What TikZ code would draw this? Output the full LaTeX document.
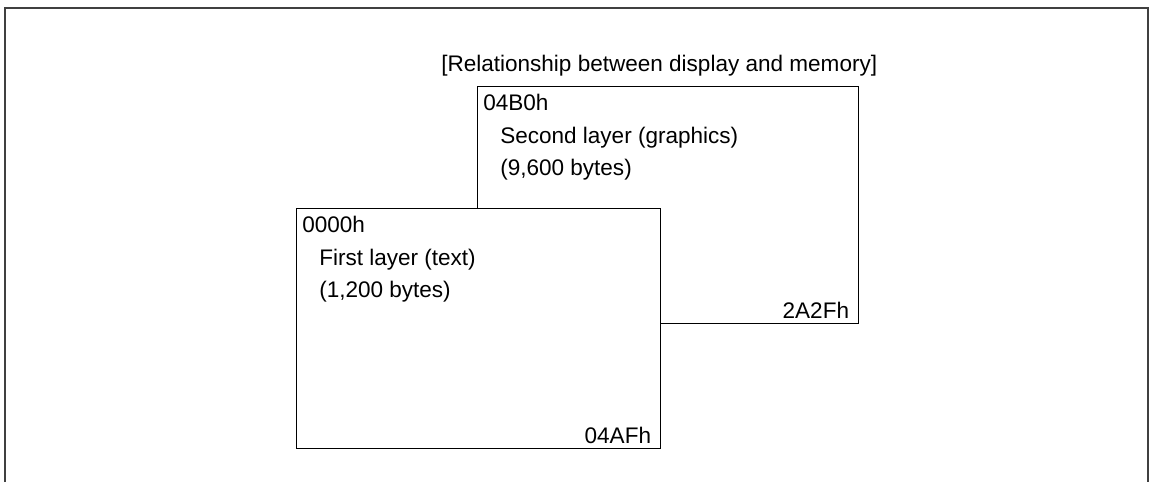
\documentclass[tikz,border=0pt]{standalone}
\usepackage{fontspec}
\setmainfont{Liberation Sans}
\usetikzlibrary{positioning}

\begin{document}
\begin{tikzpicture}[x=0.75pt, y=-0.75pt, line cap=butt,
	font=\fontsize{16.9}{20}\selectfont,
	frame/.style={draw=black!75, line width=1.3pt},
	layer/.style={draw=black, fill=white, line width=1pt, inner sep=0pt, anchor=north west},
	txt/.style={inner sep=0pt, anchor=base west},
	endtxt/.style={inner sep=0pt, anchor=base east}]

	\useasboundingbox (0,0) rectangle (1152,482);

	% ---- cornice esterna ----
	\draw[frame] (5,482) -- (5,8) -- (1148,8) -- (1148,482);

	% ---- titolo ----
	\node[txt] (title) at (441,71) {[Relationship between display and memory]};

	% ---- secondo livello (grafica) ----
	\node[layer, minimum width=285.75pt, minimum height=177.75pt] (second) at (477,86) {};
	\node[txt] (addrB)  at ([shift={(6,24)}]second.north west) {04B0h};
	\node[txt] (nameB)  at ([shift={(23,57)}]second.north west) {Second layer (graphics)};
	\node[txt] (sizeB)  at ([shift={(23,89)}]second.north west) {(9,600 bytes)};
	\node[endtxt] (endB) at ([shift={(-10,-6)}]second.south east) {2A2Fh};

	% ---- primo livello (testo) ----
	\node[layer, minimum width=273pt, minimum height=180pt] (first) at (296,208) {};
	\node[txt] (addrA)  at ([shift={(6,24)}]first.north west) {0000h};
	\node[txt] (nameA)  at ([shift={(23,57)}]first.north west) {First layer (text)};
	\node[txt] (sizeA)  at ([shift={(23,89)}]first.north west) {(1,200 bytes)};
	\node[endtxt] (endA) at ([shift={(-10,-6)}]first.south east) {04AFh};

\end{tikzpicture}
\end{document}
